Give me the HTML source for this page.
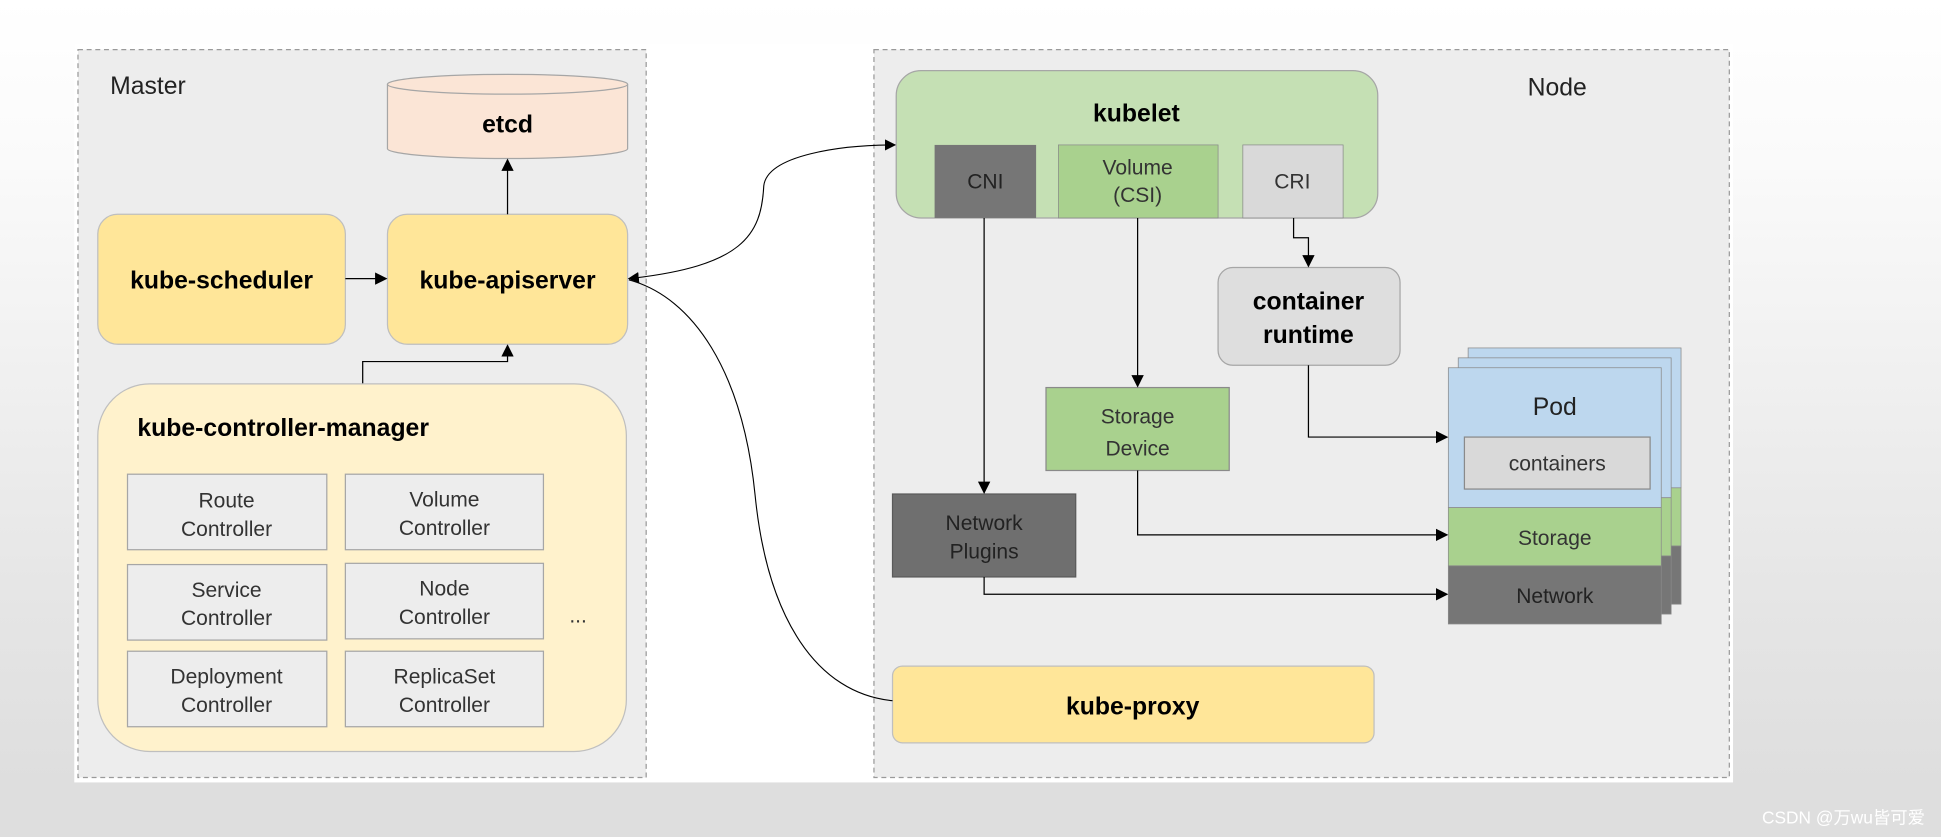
<!DOCTYPE html>
<html><head><meta charset="utf-8"><style>
html,body{margin:0;padding:0;width:1941px;height:837px;overflow:hidden;}
body{background:linear-gradient(180deg,#ffffff 0%,#fafafa 20%,#e6e6e6 70%,#dcdcdc 100%);}
svg{display:block}
text{font-family:"Liberation Sans","Noto Sans CJK SC",sans-serif;}
</style></head><body>
<svg width="1941" height="837" viewBox="0 0 1568 676" xmlns="http://www.w3.org/2000/svg">
<defs>
<marker id="a" viewBox="0 0 10 10" refX="9" refY="5" markerWidth="10" markerHeight="10" orient="auto-start-reverse"><path d="M0,0 L10,5 L0,10 z" fill="#000"/></marker>
</defs>
<rect x="0" y="630" width="1568" height="46" fill="#dedede"/>
<rect x="60" y="35" width="1340" height="597" fill="#fff"/>
<rect x="63" y="40" width="459" height="588" fill="#ededed" stroke="#9a9a9a" stroke-dasharray="4,3"/>
<text x="89" y="76" font-size="20" fill="#222">Master</text>
<path d="M313,68 L313,120 A97,8 0 0 0 507,120 L507,68" fill="#fbe5d6" stroke="#a6a6a6"/>
<ellipse cx="410" cy="68" rx="97" ry="8" fill="#fbe5d6" stroke="#a6a6a6"/>
<text x="410" y="107" font-size="20" font-weight="bold" text-anchor="middle">etcd</text>
<rect x="79" y="173" width="200" height="105" rx="16" fill="#ffe699" stroke="#bfbfbf"/>
<text x="179" y="233" font-size="20" font-weight="bold" text-anchor="middle">kube-scheduler</text>
<rect x="313" y="173" width="194" height="105" rx="16" fill="#ffe699" stroke="#bfbfbf"/>
<text x="410" y="233" font-size="20" font-weight="bold" text-anchor="middle">kube-apiserver</text>
<line x1="279" y1="225" x2="312" y2="225" stroke="#000" marker-end="url(#a)"/>
<line x1="410" y1="173" x2="410" y2="129" stroke="#000" marker-end="url(#a)"/>
<polyline points="293,310 293,292 410,292 410,279" fill="none" stroke="#000" marker-end="url(#a)"/>
<rect x="79" y="310" width="427" height="297" rx="42" fill="#fff2cc" stroke="#bfbfbf"/>
<text x="111" y="352" font-size="20" font-weight="bold">kube-controller-manager</text>
<g fill="#ededed" stroke="#a6a6a6">
<rect x="103" y="383" width="161" height="61"/><rect x="279" y="383" width="160" height="61"/>
<rect x="103" y="456" width="161" height="61"/><rect x="279" y="455" width="160" height="61"/>
<rect x="103" y="526" width="161" height="61"/><rect x="279" y="526" width="160" height="61"/>
</g>
<g font-size="17" fill="#333" text-anchor="middle">
<text x="183" y="410">Route</text><text x="183" y="433">Controller</text>
<text x="359" y="409">Volume</text><text x="359" y="432">Controller</text>
<text x="183" y="482">Service</text><text x="183" y="505">Controller</text>
<text x="359" y="481">Node</text><text x="359" y="504">Controller</text>
<text x="183" y="552">Deployment</text><text x="183" y="575">Controller</text>
<text x="359" y="552">ReplicaSet</text><text x="359" y="575">Controller</text>
<text x="467" y="503">...</text>
</g>
<rect x="706" y="40" width="691" height="588" fill="#ededed" stroke="#9a9a9a" stroke-dasharray="4,3"/>
<text x="1258" y="77" font-size="20" fill="#222" text-anchor="middle">Node</text>
<rect x="724" y="57" width="389" height="119" rx="20" fill="#c5e0b4" stroke="#a6a6a6"/>
<text x="918" y="98" font-size="20" font-weight="bold" text-anchor="middle">kubelet</text>
<rect x="755" y="117" width="82" height="59" fill="#767676"/>
<text x="796" y="152" font-size="17" fill="#222" text-anchor="middle">CNI</text>
<rect x="855" y="117" width="129" height="59" fill="#a9d18e" stroke="#8a8a8a" stroke-width="0.6"/>
<text x="919" y="141" font-size="17" fill="#333" text-anchor="middle">Volume</text>
<text x="919" y="163" font-size="17" fill="#333" text-anchor="middle">(CSI)</text>
<rect x="1004" y="117" width="81" height="59" fill="#d9d9d9" stroke="#8a8a8a" stroke-width="0.6"/>
<text x="1044" y="152" font-size="17" fill="#333" text-anchor="middle">CRI</text>
<rect x="984" y="216" width="147" height="79" rx="12" fill="#dedede" stroke="#a6a6a6"/>
<text x="1057" y="250" font-size="20" font-weight="bold" text-anchor="middle">container</text>
<text x="1057" y="277" font-size="20" font-weight="bold" text-anchor="middle">runtime</text>
<polyline points="1045,176 1045,192 1057,192 1057,215" fill="none" stroke="#000" marker-end="url(#a)"/>
<rect x="845" y="313" width="148" height="67" fill="#a9d18e" stroke="#8a8a8a"/>
<text x="919" y="342" font-size="17" fill="#333" text-anchor="middle">Storage</text>
<text x="919" y="368" font-size="17" fill="#333" text-anchor="middle">Device</text>
<line x1="919" y1="176" x2="919" y2="312" stroke="#000" marker-end="url(#a)"/>
<rect x="721" y="399" width="148" height="67" fill="#6f6f6f" stroke="#5a5a5a"/>
<text x="795" y="428" font-size="17" fill="#222" text-anchor="middle">Network</text>
<text x="795" y="451" font-size="17" fill="#222" text-anchor="middle">Plugins</text>
<line x1="795" y1="176" x2="795" y2="398" stroke="#000" marker-end="url(#a)"/>
<g stroke="#8a8a8a" stroke-width="0.6">
<rect x="1186" y="281" width="172" height="113" fill="#bdd7ee"/><rect x="1186" y="394" width="172" height="47" fill="#a9d18e"/><rect x="1186" y="441" width="172" height="47" fill="#767676"/>
<rect x="1178" y="289" width="172" height="113" fill="#bdd7ee"/><rect x="1178" y="402" width="172" height="47" fill="#a9d18e"/><rect x="1178" y="449" width="172" height="47" fill="#767676"/>
<rect x="1170" y="297" width="172" height="113" fill="#bdd7ee"/><rect x="1170" y="410" width="172" height="47" fill="#a9d18e"/><rect x="1170" y="457" width="172" height="47" fill="#767676"/>
</g>
<text x="1256" y="335" font-size="20" fill="#222" text-anchor="middle">Pod</text>
<rect x="1183" y="353" width="150" height="42" fill="#d9d9d9" stroke="#8a8a8a"/>
<text x="1258" y="380" font-size="17" fill="#333" text-anchor="middle">containers</text>
<text x="1256" y="440" font-size="17" fill="#333" text-anchor="middle">Storage</text>
<text x="1256" y="487" font-size="17" fill="#222" text-anchor="middle">Network</text>
<polyline points="1057,295 1057,353 1169,353" fill="none" stroke="#000" marker-end="url(#a)"/>
<polyline points="919,380 919,432 1169,432" fill="none" stroke="#000" marker-end="url(#a)"/>
<polyline points="795,466 795,480 1169,480" fill="none" stroke="#000" marker-end="url(#a)"/>
<rect x="721" y="538" width="389" height="62" rx="8" fill="#ffe699" stroke="#bfbfbf"/>
<text x="915" y="577" font-size="20" font-weight="bold" text-anchor="middle">kube-proxy</text>
<path d="M508,225 C600,215 615,190 617,150 C620,125 680,117 723,117" fill="none" stroke="#000" stroke-width="0.9" marker-start="url(#a)" marker-end="url(#a)"/>
<path d="M508,226 C560,240 600,300 610,400 C620,500 660,560 721,566" fill="none" stroke="#000" stroke-width="0.9"/>
<text x="1555" y="665" font-size="14" fill="#fff" text-anchor="end">CSDN @万wu皆可爱</text>
</svg>
</body></html>
